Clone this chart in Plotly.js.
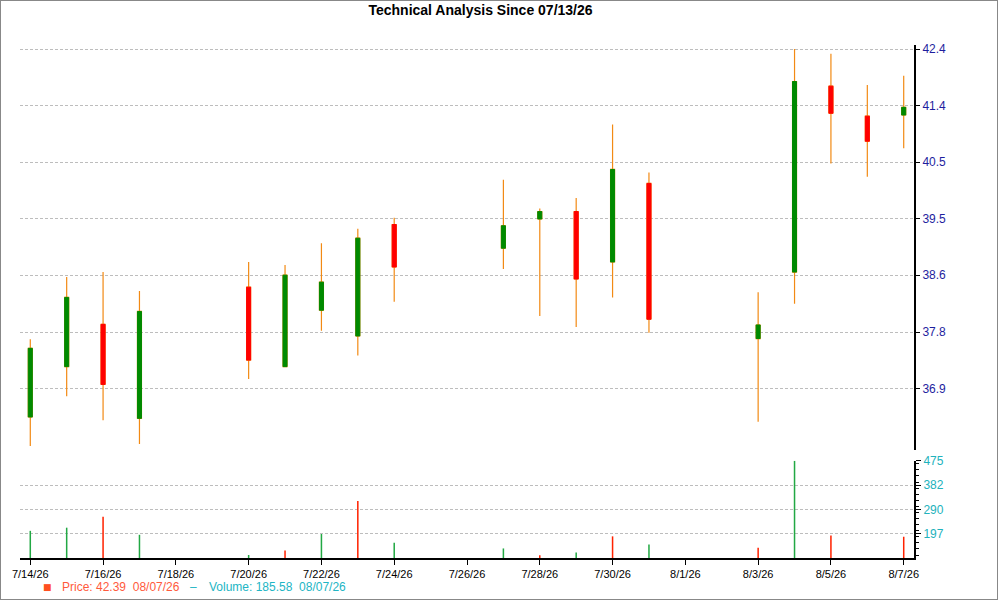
<!DOCTYPE html>
<html>
<head>
<meta charset="utf-8">
<script src="https://cdn.plot.ly/plotly-3.0.1.min.js"></script>
<style>
  body { margin: 0; background: #fff; }
  #wrap { position: relative; width: 1000px; height: 600px; }
  #chart { width: 1000px; height: 600px; }
  #frame { position: absolute; left: 0; top: 0; width: 998px; height: 600px;
           box-sizing: border-box; border: 1px solid #888; pointer-events: none; }
</style>
</head>
<body>
<div id="wrap">
  <div id="chart"></div>
  <div id="frame"></div>
</div>
<script>
var dates = ['2026-07-14', '2026-07-15', '2026-07-16', '2026-07-17', '2026-07-20',
  '2026-07-21', '2026-07-22', '2026-07-23', '2026-07-24', '2026-07-27',
  '2026-07-28', '2026-07-29', '2026-07-30', '2026-07-31', '2026-08-03',
  '2026-08-04', '2026-08-05', '2026-08-06', '2026-08-07'];

var open  = [36.47, 37.23, 37.88, 36.45, 38.46, 37.23, 38.10, 37.70, 39.46, 39.08,
             39.55, 39.67, 38.86, 40.13, 37.66, 38.70, 41.76, 41.25, 41.27];
var high  = [37.65, 38.62, 38.70, 38.40, 38.86, 38.81, 39.16, 39.39, 39.57, 40.19,
             39.72, 39.89, 41.11, 40.31, 38.38, 42.40, 42.32, 41.78, 41.94];
var low   = [36.04, 36.78, 36.42, 36.07, 37.04, 37.23, 37.78, 37.40, 38.23, 38.75,
             38.01, 37.84, 38.30, 37.75, 36.40, 38.20, 40.46, 40.24, 40.71];
var close = [37.51, 38.30, 36.96, 38.08, 37.33, 38.65, 38.54, 39.24, 38.78, 39.44,
             39.67, 38.59, 40.36, 37.96, 37.87, 41.84, 41.30, 40.83, 41.40];

var volume = [208, 220, 262, 193, 116, 133, 196, 322, 163, 141,
              115, 126, 187, 156, 144, 475, 190, 100, 185.58];
// u = up colour, d = down colour for the volume stick
var volDir = ['u', 'u', 'd', 'u', 'u', 'd', 'u', 'd', 'u', 'u',
              'd', 'u', 'd', 'u', 'd', 'u', 'd', 'd', 'd'];

var priceTicks = [36.9, 37.76, 38.65, 39.55, 40.48, 41.43, 42.4];
var priceLabels = ['36.9', '37.8', '38.6', '39.5', '40.5', '41.4', '42.4'];

var wick = '#f28a14';
var upCol = '#008a00';
var downCol = '#ff0000';
var volUp = '#22a844';
var volDown = '#ff2200';

var bodyHigh = open.map(function (o, i) { return Math.max(o, close[i]); });
var bodyLow = open.map(function (o, i) { return Math.min(o, close[i]); });

var wicks = {
  type: 'candlestick',
  x: dates, open: open, high: high, low: low, close: close,
  increasing: { line: { color: wick, width: 1.2 }, fillcolor: wick },
  decreasing: { line: { color: wick, width: 1.2 }, fillcolor: wick },
  whiskerwidth: 0,
  hoverinfo: 'skip',
  showlegend: false,
  xaxis: 'x', yaxis: 'y'
};

var bodies = {
  type: 'candlestick',
  x: dates, open: open, high: bodyHigh, low: bodyLow, close: close,
  increasing: { line: { color: upCol, width: 1 }, fillcolor: upCol },
  decreasing: { line: { color: downCol, width: 1 }, fillcolor: downCol },
  whiskerwidth: 0,
  hoverinfo: 'skip',
  showlegend: false,
  xaxis: 'x', yaxis: 'y'
};

var vol = {
  type: 'bar',
  x: dates, y: volume,
  width: 3.6e6,
  marker: { color: volDir.map(function (d) { return d === 'u' ? volUp : volDown; }), line: { width: 0 } },
  hoverinfo: 'skip',
  showlegend: false,
  xaxis: 'x', yaxis: 'y2'
};

var tickFont = { family: 'Liberation Sans, Arial, sans-serif', size: 11, color: '#000' };

var layout = {
  width: 1000, height: 600,
  margin: { l: 20, r: 86, t: 45, b: 42, pad: 0 },
  paper_bgcolor: '#fff', plot_bgcolor: '#fff',
  showlegend: false,
  boxmode: 'overlay', boxgap: 0.89, boxgroupgap: 0,
  title: {
    text: '<b>Technical Analysis Since 07/13/26</b>',
    font: { family: 'Liberation Sans, Arial, sans-serif', size: 14, color: '#000' },
    xref: 'container', x: 0.4805, xanchor: 'center',
    yref: 'container', y: 0.983, yanchor: 'middle'
  },
  xaxis: {
    type: 'date',
    range: ['2026-07-13 17:13', '2026-08-07 06:47'],
    anchor: 'y2',
    tick0: '2026-07-14', dtick: 2 * 86400000,
    tickformat: '%-m/%-d/%y',
    ticks: 'outside', ticklen: 5, tickwidth: 1, tickcolor: '#000',
    showline: true, linewidth: 2, linecolor: '#000',
    showgrid: false, zeroline: false,
    rangeslider: { visible: false },
    tickfont: tickFont
  },
  yaxis: {
    type: 'log',
    domain: [0.2105, 1],
    range: [Math.log10(35.98), Math.log10(42.47)],
    side: 'right', anchor: 'x',
    tickvals: priceTicks, ticktext: priceLabels,
    ticks: 'outside', ticklen: 4, tickwidth: 1, tickcolor: '#000',
    showline: true, linewidth: 2, linecolor: '#000',
    showgrid: true, gridcolor: '#bdbdbd', gridwidth: 1, griddash: '3px,2px',
    zeroline: false,
    tickfont: { family: 'Liberation Sans, Arial, sans-serif', size: 12, color: '#1e1e9e' }
  },
  yaxis2: {
    domain: [0, 0.1897],
    range: [104.6, 475.1],
    side: 'right', anchor: 'x',
    tick0: 104.33, dtick: 92.67, tickformat: '.0f',
    ticks: 'outside', ticklen: 5, tickwidth: 1, tickcolor: '#000',
    minor: { dtick: 23.1675, ticks: 'outside', ticklen: 3, tickcolor: '#000', showgrid: false },
    showline: true, linewidth: 2, linecolor: '#000',
    showgrid: true, gridcolor: '#bdbdbd', gridwidth: 1, griddash: '3px,2px',
    zeroline: false,
    tickfont: { family: 'Liberation Sans, Arial, sans-serif', size: 12, color: '#22b2bc' }
  },
  annotations: [
    { xref: 'paper', yref: 'paper', x: 0.0313, y: -0.0565, xanchor: 'center', yanchor: 'middle',
      text: '\u25A0', showarrow: false, font: { family: 'DejaVu Sans, sans-serif', size: 9, color: '#ff4f1f' } },
    { xref: 'paper', yref: 'paper', x: 0.0447, y: -0.0565, xanchor: 'left', yanchor: 'middle',
      text: 'Price: 42.39\u00a0\u00a008/07/26', showarrow: false,
      font: { family: 'Liberation Sans, Arial, sans-serif', size: 12, color: '#ff5a3c' } },
    { xref: 'paper', yref: 'paper', x: 0.1946, y: -0.0565, xanchor: 'center', yanchor: 'middle',
      text: '\u2013', showarrow: false,
      font: { family: 'Liberation Sans, Arial, sans-serif', size: 12, color: '#22b5c4' } },
    { xref: 'paper', yref: 'paper', x: 0.209, y: -0.0565, xanchor: 'left', yanchor: 'middle',
      text: 'Volume: 185.58\u00a0\u00a008/07/26', showarrow: false,
      font: { family: 'Liberation Sans, Arial, sans-serif', size: 12, color: '#22b5c4' } }
  ]
};

Plotly.newPlot('chart', [wicks, bodies, vol], layout, { displayModeBar: false, staticPlot: true });
</script>
</body>
</html>
